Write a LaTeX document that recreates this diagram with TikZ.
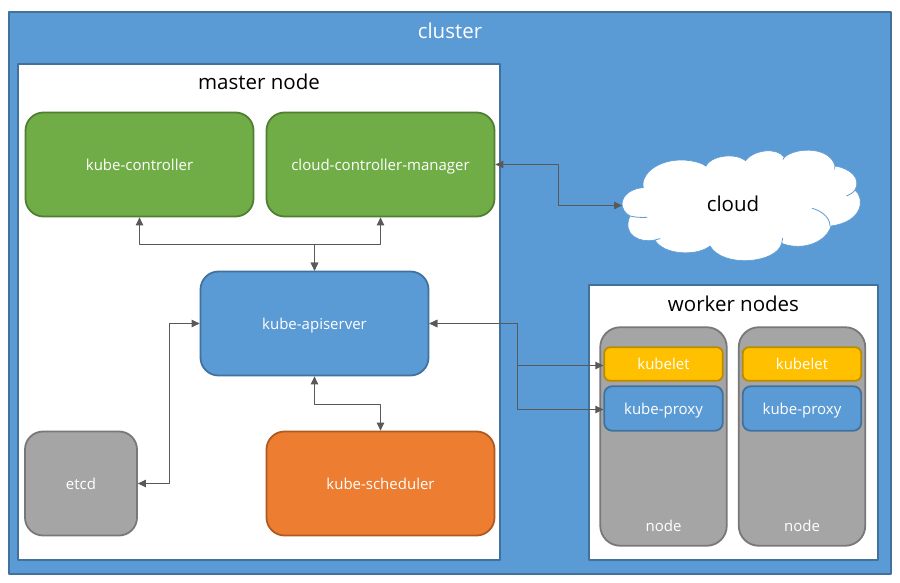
\documentclass[tikz,border=0pt]{standalone}
\usepackage{fontspec}
\setmainfont{Open Sans}
\usetikzlibrary{arrows.meta}
\definecolor{boxblue}{HTML}{5B9BD5}
\definecolor{lineblue}{HTML}{41719C}
\definecolor{boxgreen}{HTML}{70AD47}
\definecolor{linegreen}{HTML}{507E32}
\definecolor{boxorange}{HTML}{ED7D31}
\definecolor{lineorange}{HTML}{AE5A21}
\definecolor{boxgray}{HTML}{A5A5A5}
\definecolor{linegray}{HTML}{787878}
\definecolor{boxyellow}{HTML}{FFC000}
\definecolor{lineyellow}{HTML}{BC8C00}
\definecolor{linkgray}{HTML}{595959}
\tikzset{
  area/.style={draw=lineblue,line width=1.8pt,inner sep=0pt},
  part/.style={line width=1.8pt,rounded corners=18pt,inner sep=0pt,text=white,font=\fontsize{15}{17}\selectfont,text height=11.4pt,text depth=0pt,minimum width=228pt,minimum height=104pt},
  small/.style={part,rounded corners=6pt,minimum width=118.5pt},
  title/.style={inner sep=0pt,font=\fontsize{20.5}{24}\selectfont},
  link/.style={<->,draw=linkgray,line width=1pt},
}
\begin{document}
\begin{tikzpicture}[line cap=round,line join=round,>={Triangle[length=8pt,width=7.5pt]},x=1pt,y=-1pt]
\useasboundingbox (0,0) rectangle (900,583);
\node[area,fill=boxblue,minimum width=881.5pt,minimum height=561.5pt] (cluster) at (450,293) {};
\node[area,fill=white,minimum width=481.5pt,minimum height=495.5pt] (master) at (259,312) {};
\node[area,fill=white,minimum width=288.5pt,minimum height=274.5pt] (worker) at (733.5,422.5) {};
\node[title,text=white] (clustertitle) at (450,31) {cluster};
\node[title] (mastertitle) at (259,82) {master node};
\node[title] (workertitle) at (733.5,304) {worker nodes};
% master node
\node[part,fill=boxgreen,draw=linegreen] (controller) at (139.5,164.5) {kube-controller};
\node[part,fill=boxgreen,draw=linegreen] (cloudmanager) at (380.5,164.5) {cloud-controller-manager};
\node[part,fill=boxblue,draw=lineblue] (apiserver) at (314.5,323.5) {kube-apiserver};
\node[part,fill=boxgray,draw=linegray,minimum width=112pt] (etcd) at (81,483.5) {etcd};
\node[part,fill=boxorange,draw=lineorange] (scheduler) at (380.5,483.5) {kube-scheduler};
% worker nodes
\node[part,fill=boxgray,draw=linegray,minimum width=126.5pt,minimum height=218.5pt,rounded corners=20pt] (nodeone) at (663.5,436.5) {};
\node[part,fill=boxgray,draw=linegray,minimum width=126.5pt,minimum height=218.5pt,rounded corners=20pt] (nodetwo) at (802,436.5) {};
\node[inner sep=0pt,text=white,font=\fontsize{15}{17}\selectfont] (nodeonetext) at (663.5,525.5) {node};
\node[inner sep=0pt,text=white,font=\fontsize{15}{17}\selectfont] (nodetwotext) at (802,525.5) {node};
\node[small,fill=boxyellow,draw=lineyellow,minimum height=33.5pt] (kubeletone) at (663.5,364) {kubelet};
\node[small,fill=boxyellow,draw=lineyellow,minimum height=33.5pt] (kubelettwo) at (802,364) {kubelet};
\node[small,fill=boxblue,draw=lineblue,minimum height=44.5pt,rounded corners=8pt] (proxyone) at (663.5,408.5) {kube-proxy};
\node[small,fill=boxblue,draw=lineblue,minimum height=44.5pt,rounded corners=8pt] (proxytwo) at (802,408.5) {kube-proxy};
% cloud
\begin{scope}[shift={(600,140)},x=0.3333pt,y=-0.3333pt]
\filldraw[fill=white,draw=boxblue,line width=0.6pt] (66,190)
  .. controls (70,160) and (100,145) .. (130,143)
  .. controls (120,95) and (190,50) .. (270,62)
  .. controls (290,65) and (305,70) .. (318,78)
  .. controls (330,50) and (400,35) .. (437,62)
  .. controls (460,30) and (530,20) .. (553,52)
  .. controls (590,20) and (690,20) .. (705,78)
  .. controls (750,85) and (785,115) .. (765,150)
  .. controls (795,175) and (790,245) .. (693,258)
  .. controls (680,305) and (610,335) .. (545,310)
  .. controls (530,370) and (370,385) .. (330,318)
  .. controls (290,350) and (190,345) .. (165,300)
  .. controls (120,310) and (65,285) .. (90,228)
  .. controls (75,220) and (66,205) .. (66,190) -- cycle;
\draw[boxblue,line width=0.8pt] (637,205) .. controls (665,213) and (690,232) .. (690,258);
\draw[boxblue,line width=0.8pt] (765,150) .. controls (760,158) and (750,164) .. (740,168);
\draw[boxblue,line width=0.8pt] (90,228) .. controls (105,232) and (125,233) .. (141,232);
\draw[boxblue,line width=0.8pt] (165,300) .. controls (170,299) and (175,298) .. (180,296);
\draw[boxblue,line width=0.8pt] (545,310) .. controls (547,305) and (548,300) .. (548,295);
\draw[boxblue,line width=0.8pt] (318,78) .. controls (315,73) and (310,68) .. (305,65);
\draw[boxblue,line width=0.8pt] (437,62) .. controls (436,60) and (435,58) .. (434,56);
\draw[boxblue,line width=0.8pt] (553,52) .. controls (551,54) and (550,56) .. (549,58);
\draw[boxblue,line width=0.8pt] (705,78) .. controls (705,81) and (705,84) .. (704,87);
\end{scope}
\node[inner sep=0pt,font=\fontsize{20.5}{24}\selectfont] (cloudtext) at (733,204) {cloud};
\coordinate (cloudleft) at (622,205.5);
% connectors
\coordinate (topjoin) at (314.5,244.5);
\coordinate (cloudbend) at (558.5,205.5);
\coordinate (etcdbend) at (169.5,323.5);
\coordinate (schedbend) at (347,404.5);
\coordinate (workerbend) at (517.5,323.5);
\draw[link] (controller.south) |- (topjoin) -- (apiserver.north);
\draw[link] (cloudmanager.south) |- (topjoin) -- (apiserver.north);
\draw[link] (cloudmanager.east) -| (cloudbend) -- (cloudleft);
\draw[link] (apiserver.west) -- (etcdbend) |- (etcd.east);
\draw[link] (apiserver.south) |- (schedbend) -| (scheduler.north);
\draw[link] (apiserver.east) -- (workerbend) |- ([yshift=-1.5pt]kubeletone.west);
\draw[link] (apiserver.east) -- (workerbend) |- ([yshift=-1pt]proxyone.west);
\end{tikzpicture}
\end{document}
